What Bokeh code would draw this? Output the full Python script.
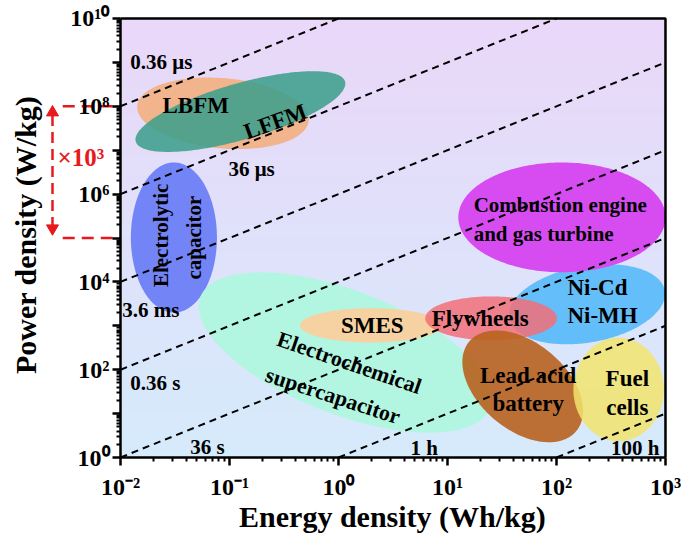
import numpy as np
from bokeh.plotting import figure
from bokeh.models import Range1d, FixedTicker, CustomJSTickFormatter, ColumnDataSource
from bokeh.core.properties import value
from bokeh.embed import file_html
from bokeh.resources import INLINE

FONT = "Liberation Serif"
RED = "#e8191c"

# ---- axes -------------------------------------------------------------
x_decades = [-2, -1, 0, 1, 2, 3]
y_decades = list(range(0, 11))
y_labeled = [0, 2, 4, 6, 8, 10]
x_title = "Energy density (Wh/kg)"
y_title = "Power density (W/kg)"
x_title_pos = (0.495, -1.344)     # log10 E, log10 P of the title centre
y_title_pos = (-2.875, 5.07)
# room around the data box (in decades) for tick labels, titles and the gap marker
pad_left, pad_right, pad_bottom, pad_top = 1.101, 0.147, 1.845, 0.41

# ---- constant discharge-time lines (P = 3600 * E / t) -----------------
line_times_s = [0.36e-6, 36e-6, 3.6e-3, 0.36, 36, 3600, 360000]
line_labels = ["0.36 μs", "36 μs", "3.6 ms", "0.36 s", "36 s", "1 h", "100 h"]
line_label_logE = [-1.91, -1.01, -1.985, -1.91, -1.36, 0.66, 2.50]
line_label_logP = [9.00, 6.58, 3.35, 1.69, 0.23, 0.21, 0.21]

# ---- technology regions (log10 centre, semi-axes in P-decades, tilt) ---
tech = ["LBFM", "LFFM", "Electrolytic capacitor", "Electrochemical supercapacitor",
        "SMES", "Ni-Cd / Ni-MH", "Flywheels", "Combustion engine",
        "Lead acid battery", "Fuel cells"]
tech_logE = [-1.06, -0.90, -1.51, 0.06, 0.30, 2.28, 1.40, 2.05, 1.69, 2.57]
tech_logP = [7.84, 7.88, 5.01, 2.39, 3.01, 3.49, 3.17, 5.47, 1.62, 1.55]
tech_a = [1.96, 2.48, 0.98, 3.53, 1.62, 1.80, 1.50, 2.36, 1.59, 1.03]
tech_b = [0.80, 0.64, 1.71, 1.41, 0.39, 0.87, 0.50, 1.25, 0.99, 1.18]
tech_tilt_deg = [-5, 16, 0, -21, 0, 10, 0, 0, -40, 0]
tech_color = ["#f2b48c", "#3f9f8c", "#6d7ef5", "#b2f6e2", "#f6d2a2", "#5cbcfa",
              "#f27078", "#d64cf0", "#b8621e", "#f2e46c"]
tech_alpha = [1.0, 0.88, 0.95, 1.0, 1.0, 0.95, 0.85, 1.0, 0.9, 0.85]

# region labels
lab_text = ["LBFM", "SMES", "Flywheels", "Lead acid", "battery", "Fuel", "cells"]
lab_logE = [-1.31, 0.31, 1.30, 1.74, 1.74, 2.65, 2.65]
lab_logP = [8.02, 3.01, 3.17, 1.87, 1.23, 1.80, 1.14]
lab_size = ["23px"] * 7

left_text = ["Ni-Cd", "Ni-MH", "Combustion engine", "and gas turbine"]
left_logE = [2.10, 2.10, 1.24, 1.24]
left_logP = [3.87, 3.24, 5.76, 5.10]
left_size = ["23px", "23px", "21px", "21px"]

rot_text = ["LFFM", "Electrolytic", "capacitor", "Electrochemical", "supercapacitor"]
rot_logE = [-0.58, -1.63, -1.33, 0.10, -0.05]
rot_logP = [7.65, 5.06, 5.01, 2.16, 1.41]
rot_deg = [20, 90, 90, -19, -18]
rot_size = ["23px", "21px", "21px", "22px", "22px"]

# red marker: three orders of magnitude from 1e8 down to 1e5
gap_low_log, gap_high_log = 5, 8
gap_text = "×10³"
gap_text_logE, gap_text_logP = -2.578, 6.83
gap_rule_logE = -2.53          # where the dashed guides start
gap_arrow_logE = -2.624        # vertical double arrow
gap_head_logP = [7.86, 5.22]   # arrow-head centres
gap_shaft_logP = [7.80, 5.28]

W, H = 681, 538
X_DEC = W / (x_decades[-1] - x_decades[0] + pad_left + pad_right)
Y_DEC = H / (y_decades[-1] - y_decades[0] + pad_bottom + pad_top)
K = X_DEC / Y_DEC     # one E-decade is K P-decades wide on screen

x_lo, x_hi = 10.0 ** x_decades[0], 10.0 ** x_decades[-1]
y_lo, y_hi = 10.0 ** y_decades[0], 10.0 ** y_decades[-1]

p = figure(width=W, height=H, x_axis_type="log", y_axis_type="log",
           x_range=Range1d(10 ** (x_decades[0] - pad_left), 10 ** (x_decades[-1] + pad_right)),
           y_range=Range1d(10 ** (y_decades[0] - pad_bottom), 10 ** (y_decades[-1] + pad_top)),
           output_backend="svg", toolbar_location=None,
           min_border=0, min_border_left=0, min_border_right=0,
           min_border_top=0, min_border_bottom=0)
p.grid.visible = False
p.outline_line_color = None
p.background_fill_color = "white"
p.border_fill_color = "white"

# vertical lavender-to-blue background
rows = 64
bottom_rgb = np.array([214, 235, 252])
top_rgb = np.array([234, 216, 249])
img = np.zeros((rows, 2), dtype=np.uint32)
view = img.view(dtype=np.uint8).reshape((rows, 2, 4))
for i in range(rows):
    f = i / (rows - 1)
    c = (1 - f) * bottom_rgb + f * top_rgb
    view[i, :, 0:3] = c.astype(np.uint8)
    view[i, :, 3] = 255
p.image_rgba(image=[img], x=x_lo, y=y_lo, dw=x_hi - x_lo, dh=y_hi - y_lo)

# technology ellipses
t = np.linspace(0, 2 * np.pi, 240)
xs, ys = [], []
for cx, cy, a, b, deg in zip(tech_logE, tech_logP, tech_a, tech_b, tech_tilt_deg):
    th = np.radians(deg)
    u, v = a * np.cos(t), b * np.sin(t)
    xr = u * np.cos(th) - v * np.sin(th)
    yr = u * np.sin(th) + v * np.cos(th)
    lx = np.minimum(cx + xr / K, x_decades[-1])
    xs.append(10 ** lx)
    ys.append(10 ** (cy + yr))
p.patches(xs=xs, ys=ys, fill_color=tech_color, fill_alpha=tech_alpha, line_color=None)

# discharge-time lines, kept inside the data box
for ts in line_times_s:
    h = ts / 3600.0
    e0, e1 = max(x_lo, h * y_lo), min(x_hi, h * y_hi)
    E = np.array([e0, e1])
    p.line(E, E / h, line_color="black", line_width=2, line_dash="7 5")

# top and right edges of the data box
p.line([x_lo, x_hi, x_hi], [y_hi, y_hi, y_lo], line_color="black", line_width=2.5)

txt = dict(text_font=value(FONT), text_font_style="bold", text_color="black",
           text_baseline="middle")
p.text(x=[10 ** v for v in line_label_logE], y=[10 ** v for v in line_label_logP],
       text=line_labels, text_align="left", text_font_size="21px", **txt)

def label_source(texts, les, lps, sizes, angles=None):
    d = dict(x=[10 ** v for v in les], y=[10 ** v for v in lps], text=texts, size=sizes,
             angle=[np.radians(a) for a in (angles or [0] * len(texts))])
    return ColumnDataSource(d)

p.text(x="x", y="y", text="text", angle="angle", text_font_size="size",
       source=label_source(lab_text, lab_logE, lab_logP, lab_size),
       text_align="center", **txt)
p.text(x="x", y="y", text="text", angle="angle", text_font_size="size",
       source=label_source(left_text, left_logE, left_logP, left_size),
       text_align="left", **txt)
p.text(x="x", y="y", text="text", angle="angle", text_font_size="size",
       source=label_source(rot_text, rot_logE, rot_logP, rot_size, rot_deg),
       text_align="center", **txt)

# axis titles
p.text(x="x", y="y", text="text", angle="angle", text_font_size="size",
       source=label_source([x_title, y_title], [x_title_pos[0], y_title_pos[0]],
                           [x_title_pos[1], y_title_pos[1]], ["30px", "30px"], [0, 90]),
       text_align="center", **txt)

# red gap marker left of the power axis
gap_y = [10.0 ** gap_high_log, 10.0 ** gap_low_log]
p.segment(x0=[10 ** gap_rule_logE] * 2, y0=gap_y, x1=[x_lo] * 2, y1=gap_y,
          line_color=RED, line_width=2.5, line_dash="12 7")
p.segment(x0=[10 ** gap_arrow_logE], y0=[10 ** gap_shaft_logP[0]],
          x1=[10 ** gap_arrow_logE], y1=[10 ** gap_shaft_logP[1]],
          line_color=RED, line_width=2.5, line_dash="11 6")
p.scatter(x=[10 ** gap_arrow_logE] * 2, y=[10 ** v for v in gap_head_logP],
          marker=["triangle", "inverted_triangle"], size=12,
          fill_color=RED, line_color=RED)
p.text(x=[10 ** gap_text_logE], y=[10 ** gap_text_logP], text=[gap_text],
       text_align="left", text_baseline="middle", text_color=RED,
       text_font=value(FONT), text_font_style="bold", text_font_size="25px")

# axes pinned to the data box
sup_js = """
const sup = {"-": "\u207b", "0": "\u2070", "1": "\u00b9", "2": "\u00b2", "3": "\u00b3",
             "4": "\u2074", "5": "\u2075", "6": "\u2076", "7": "\u2077", "8": "\u2078",
             "9": "\u2079"};
const e = Math.round(Math.log10(tick));
if (!labeled.includes(e)) { return ""; }
return "10" + String(e).split("").map(c => sup[c]).join("");
"""
minor_x = [k * 10.0 ** d for d in x_decades[:-1] for k in range(2, 10)]
minor_y = [k * 10.0 ** d for d in y_decades[:-1] for k in range(2, 10)]
p.xaxis.ticker = FixedTicker(ticks=[10.0 ** d for d in x_decades], minor_ticks=minor_x)
p.yaxis.ticker = FixedTicker(ticks=[10.0 ** d for d in y_decades], minor_ticks=minor_y)
p.xaxis.formatter = CustomJSTickFormatter(args=dict(labeled=x_decades), code=sup_js)
p.yaxis.formatter = CustomJSTickFormatter(args=dict(labeled=y_labeled), code=sup_js)
p.xaxis.bounds = (x_lo, x_hi)
p.yaxis.bounds = (y_lo, y_hi)
p.xaxis.fixed_location = y_lo
p.yaxis.fixed_location = x_lo
for ax in (p.xaxis[0], p.yaxis[0]):
    ax.axis_line_width = 2.5
    ax.major_tick_line_width = 2.5
    ax.minor_tick_line_width = 2
    ax.major_tick_in = 0
    ax.major_tick_out = 8
    ax.minor_tick_in = 0
    ax.minor_tick_out = 4
    ax.major_label_text_font = FONT
    ax.major_label_text_font_style = "bold"
    ax.major_label_text_font_size = "24px"
    ax.major_label_text_color = "black"
p.xaxis.major_label_standoff = 8
p.yaxis.major_label_standoff = 3

open("out.html", "w").write(file_html(p, INLINE))
